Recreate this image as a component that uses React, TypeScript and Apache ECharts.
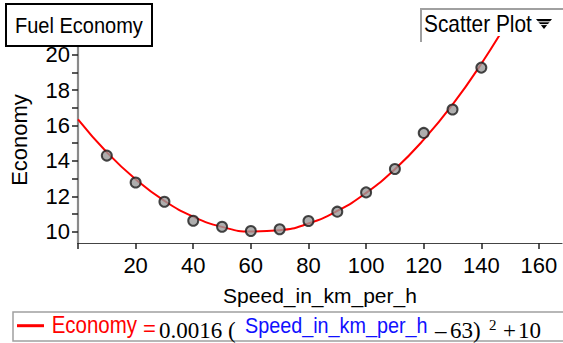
import React, { useEffect, useRef } from "react";
import * as echarts from "echarts";

// Observed data points (Speed_in_km_per_h, Economy)
const speeds = [10, 20, 30, 40, 50, 60, 70, 80, 90, 100, 110, 120, 130, 140];
const economy = [14.3, 12.78, 11.69, 10.62, 10.28, 10.04, 10.14, 10.6, 11.13, 12.22, 13.54, 15.58, 16.9, 19.27];

// Fitted curve
const curveX = [0, 10, 20, 30, 40, 50, 60, 70, 80, 90, 100, 110, 120, 130, 140, 150];
const curveY = [16.35, 14.49, 12.96, 11.74, 10.85, 10.27, 10.01, 10.08, 10.46, 11.17, 12.19, 13.53, 15.2, 17.18, 19.49, 22.11];

// Tick values
const xTicks = [0, 20, 40, 60, 80, 100, 120, 140, 160];
const xLabels = [20, 40, 60, 80, 100, 120, 140, 160];
const yTicks = [10, 11, 12, 13, 14, 15, 16, 17, 18, 19, 20];
const yLabels = [10, 12, 14, 16, 18, 20];

const SANS = '"Liberation Sans", Arial, Helvetica, sans-serif';
const SERIF = '"Liberation Serif", "Times New Roman", serif';

export default function App() {
  const ref = useRef<HTMLDivElement>(null);
  useEffect(() => {
    if (!ref.current) return;
    const chart = echarts.init(ref.current, null, { renderer: "svg" });
    const txt = (x: number, y: number, text: string, font: string, size: number, fill: string, scaleX = 1) => ({
      type: "text",
      x,
      y,
      scaleX,
      z: 101,
      style: { text, fontFamily: font, fontSize: size, fill, align: "left", verticalAlign: "middle" },
    });
    chart.setOption({
      animation: false,
      backgroundColor: "#ffffff",
      grid: { left: 76, right: 1, top: 37, bottom: 100, containLabel: false },
      xAxis: {
        type: "value",
        min: 0,
        max: 168,
        interval: 20,
        name: "Speed_in_km_per_h",
        nameLocation: "middle",
        nameGap: 42,
        nameTextStyle: { fontSize: 21, color: "#000", fontFamily: SANS },
        axisLine: { show: true, onZero: false, lineStyle: { color: "#444", width: 1.2 } },
        axisTick: { show: true, length: 6, lineStyle: { color: "#222", width: 1.5 }, customValues: xTicks },
        axisLabel: { fontSize: 22, color: "#000", fontFamily: SANS, margin: 11, customValues: xLabels },
        splitLine: { show: false },
      },
      yAxis: {
        type: "value",
        min: 9.36,
        max: 21,
        name: "Economy",
        nameLocation: "middle",
        nameGap: 48,
        nameTextStyle: { fontSize: 22, color: "#000", fontFamily: SANS },
        axisLine: { show: true, onZero: false, lineStyle: { color: "#8a8a8a", width: 2.2 } },
        axisTick: { show: true, length: 6, lineStyle: { color: "#222", width: 1.5 }, customValues: yTicks },
        axisLabel: { fontSize: 22, color: "#000", fontFamily: SANS, margin: 8, customValues: yLabels },
        splitLine: { show: false },
      },
      series: [
        {
          type: "line",
          data: curveX.map((x, i) => [x, curveY[i]]),
          smooth: true,
          showSymbol: false,
          symbol: "none",
          clip: true,
          lineStyle: { color: "#ff0000", width: 2 },
          z: 2,
        },
        {
          type: "scatter",
          data: speeds.map((x, i) => [x, economy[i]]),
          symbol: "circle",
          symbolSize: 10,
          itemStyle: { color: "#9a9a9a", borderColor: "#1a1a1a", borderWidth: 2 },
          z: 3,
        },
      ],
      graphic: [
        // Title box
        {
          type: "rect",
          z: 100,
          shape: { x: 6, y: 4, width: 146, height: 42 },
          style: { fill: "#ffffff", stroke: "#000000", lineWidth: 2 },
        },
        txt(15, 25, "Fuel Economy", SANS, 22, "#000", 0.91),
        // Scatter Plot selector
        {
          type: "polyline",
          z: 100,
          shape: { points: [[421, 42], [421, 9], [563, 9]] },
          style: { stroke: "#a0a0a0", lineWidth: 2, fill: null },
        },
        txt(424, 24, "Scatter Plot", SANS, 24, "#000", 0.87),
        {
          type: "polygon",
          z: 101,
          shape: { points: [[536, 19], [552, 19], [544, 29]] },
          style: { fill: "#000" },
        },
        { type: "line", z: 102, shape: { x1: 535, y1: 21.8, x2: 553, y2: 21.8 }, style: { stroke: "#fff", lineWidth: 1 } },
        { type: "line", z: 102, shape: { x1: 535, y1: 24.6, x2: 553, y2: 24.6 }, style: { stroke: "#fff", lineWidth: 1 } },
        // Equation box
        {
          type: "rect",
          z: 100,
          shape: { x: 13, y: 312, width: 560, height: 29 },
          style: { fill: "#ffffff", stroke: "#a0a0a0", lineWidth: 1.5 },
        },
        { type: "line", z: 101, shape: { x1: 17, y1: 325.7, x2: 44, y2: 325.7 }, style: { stroke: "#ff0000", lineWidth: 3 } },
        txt(51.7, 325, "Economy", SANS, 23, "#ff0000", 0.89),
        txt(143, 328, "=", SANS, 22, "#ff0000"),
        txt(159, 330.8, "0.0016 (", SERIF, 23, "#000"),
        txt(245, 325, "Speed_in_km_per_h", SANS, 22, "#1010ff", 0.9),
        txt(435, 330.8, "\u2013", SERIF, 23, "#000"),
        txt(450, 330.8, "63)", SERIF, 23, "#000"),
        txt(489, 324.5, "2", SERIF, 15, "#000"),
        txt(503, 330.8, "+", SERIF, 23, "#000"),
        txt(518, 330.8, "10", SERIF, 23, "#000"),
      ],
    });
    return () => chart.dispose();
  }, []);
  return (
    <div
      ref={ref}
      style={{ position: "fixed", left: 0, top: 0, width: 563, height: 343, background: "#fff" }}
    />
  );
}
